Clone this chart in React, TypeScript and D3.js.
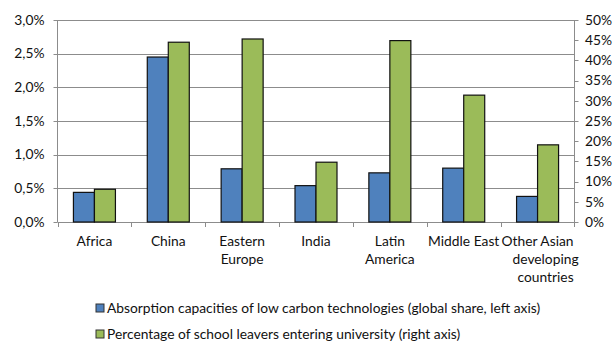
import React from "react";
import * as d3 from "d3";

const categories = ["Africa", "China", "Eastern Europe", "India", "Latin America", "Middle East", "Other Asian developing countries"];
const categoryLines = [["Africa"], ["China"], ["Eastern", "Europe"], ["India"], ["Latin", "America"], ["Middle East"], ["Other Asian", "developing", "countries"]];
const absorption = [0.44, 2.45, 0.79, 0.54, 0.73, 0.8, 0.38];
const university = [8.1, 44.5, 45.3, 14.8, 44.9, 31.4, 19.1];
const leftTicks = [0, 0.5, 1, 1.5, 2, 2.5, 3];
const rightTicks = [0, 5, 10, 15, 20, 25, 30, 35, 40, 45, 50];
const seriesNames = [
  "Absorption capacities of low carbon technologies (global share, left axis)",
  "Percentage of school leavers entering university (right axis)",
];
const colors = ["#4F81BD", "#9BBB59"];

const W = 613, H = 342;
const left = 57.5, right = 574.5, top = 20, bottom = 222;
const FONT = "Lato, 'Open Sans', sans-serif";
const FS = 13.8;

export default function App() {
  const x = d3.scaleBand<string>().domain(categories).range([left, right]).padding(0);
  const yL = d3.scaleLinear().domain([0, 3]).range([bottom, top]);
  const yR = d3.scaleLinear().domain([0, 50]).range([bottom, top]);
  const barW = 21;
  const fmtL = (v: number) => v.toFixed(1).replace(".", ",") + "%";
  const grid = "#8c8c8c";
  const txt = "#111";

  return (
    <svg width={W} height={H} style={{ position: "absolute", left: 0, top: 0, background: "#fff" }} fontFamily={FONT}>
      <rect x={0} y={0} width={W} height={H} fill="#fff" />
      {leftTicks.map((t) => (
        <g key={"l" + t}>
          <line x1={left} x2={right} y1={Math.round(yL(t)) + 0.5} y2={Math.round(yL(t)) + 0.5} stroke={grid} strokeWidth={1} />
          <line x1={left - 4} x2={left} y1={Math.round(yL(t)) + 0.5} y2={Math.round(yL(t)) + 0.5} stroke={grid} />
          <text x={44.5} y={yL(t)} dy="0.35em" textAnchor="end" fontSize={FS} fill={txt}>{fmtL(t)}</text>
        </g>
      ))}
      {rightTicks.map((t) => (
        <g key={"r" + t}>
          <line x1={right} x2={right + 4} y1={Math.round(yR(t)) + 0.5} y2={Math.round(yR(t)) + 0.5} stroke={grid} />
          <text x={585} y={yR(t)} dy="0.35em" textAnchor="start" fontSize={FS} fill={txt}>{t + "%"}</text>
        </g>
      ))}
      <line x1={left} x2={left} y1={top} y2={bottom} stroke={grid} />
      <line x1={right} x2={right} y1={top} y2={bottom} stroke={grid} />
      {categories.map((c, i) => (
        <line key={"ct" + i} x1={Math.round(x(c)!) + 0.5} x2={Math.round(x(c)!) + 0.5} y1={bottom} y2={bottom + 5} stroke={grid} />
      ))}
      <line x1={right} x2={right} y1={bottom} y2={bottom + 5} stroke={grid} />
      {categories.map((c, i) => {
        const cx = x(c)! + x.bandwidth() / 2;
        return (
          <g key={"b" + i}>
            <rect x={cx - barW} y={yL(absorption[i])} width={barW} height={bottom - yL(absorption[i])} fill={colors[0]} stroke="#111" strokeWidth={1.2} />
            <rect x={cx} y={yR(university[i])} width={barW} height={bottom - yR(university[i])} fill={colors[1]} stroke="#111" strokeWidth={1.2} />
          </g>
        );
      })}
      {categories.map((c, i) => {
        const cx = x(c)! + x.bandwidth() / 2;
        return (
          <text key={"cl" + i} fontSize={FS} fill={txt} textAnchor="middle">
            {categoryLines[i].map((ln, j) => (
              <tspan key={j} x={cx + (i === 6 && j > 0 ? 8 : 0)} y={246 + j * 18}>{ln}</tspan>
            ))}
          </text>
        );
      })}
      {seriesNames.map((s, i) => (
        <g key={"lg" + i}>
          <rect x={96} y={304 + i * 26} width={8} height={8} fill={colors[i]} stroke="#333" strokeWidth={1} />
          <text x={107} y={308 + i * 26} dy="0.35em" fontSize={FS} fill={txt}>{s}</text>
        </g>
      ))}
    </svg>
  );
}
